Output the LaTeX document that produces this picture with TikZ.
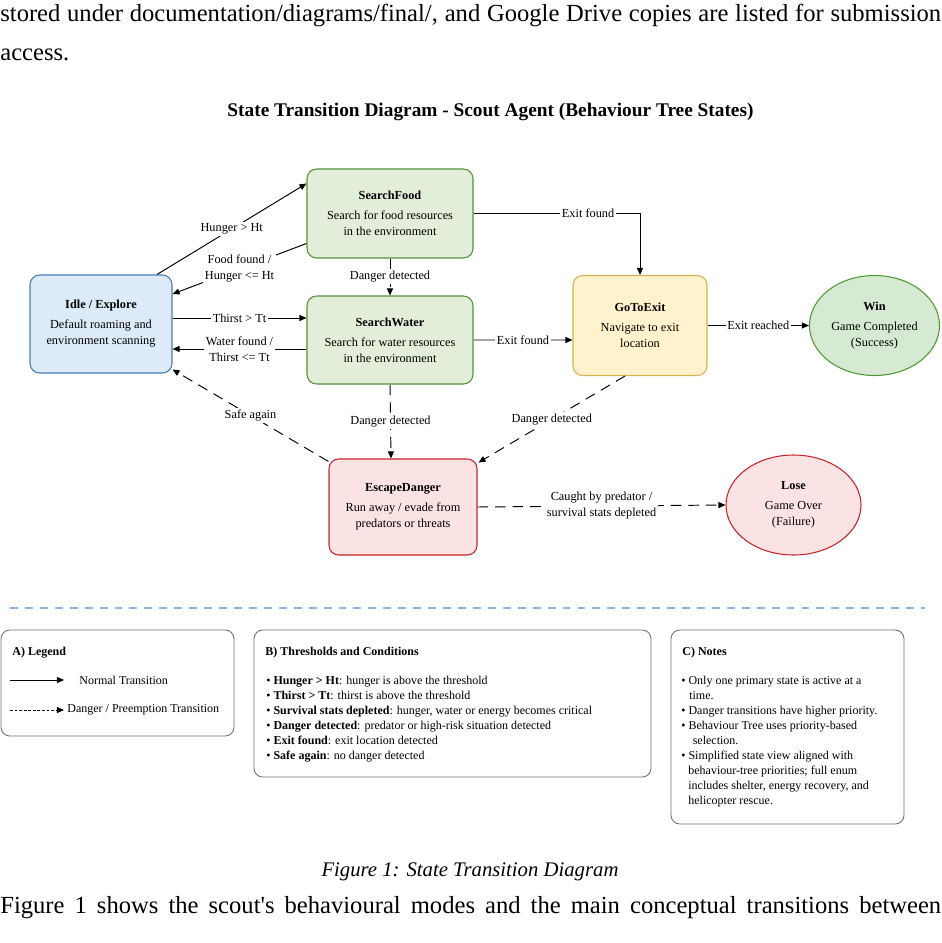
\documentclass[tikz,border=0pt]{standalone}
\usepackage{fontspec}
\setmainfont{Liberation Serif}
\usepackage{xcolor}
\usetikzlibrary{arrows.meta}
\usetikzlibrary{calc}
\usetikzlibrary{shapes.geometric}

\definecolor{idlefill}{HTML}{DDEAF9}
\definecolor{idledraw}{HTML}{4A7DB8}
\definecolor{searchfill}{HTML}{E2EEDA}
\definecolor{searchdraw}{HTML}{55913A}
\definecolor{winfill}{HTML}{D6E9D2}
\definecolor{windraw}{HTML}{4E9A30}
\definecolor{exitfill}{HTML}{FFF2CC}
\definecolor{exitdraw}{HTML}{D6B24E}
\definecolor{dangerfill}{HTML}{FBE2E3}
\definecolor{dangerdraw}{HTML}{C4262B}
\definecolor{sepblue}{HTML}{8DB3E2}
\definecolor{boxgray}{HTML}{707070}

\newcommand{\bodyfont}{\fontsize{14}{22.8}\selectfont}
\newcommand{\capfont}{\fontsize{11.8}{14}\selectfont}
\newcommand{\titlefont}{\fontsize{11}{13}\selectfont\bfseries}
\newcommand{\stfont}{\fontsize{7}{9.1}\selectfont}
\newcommand{\bxfont}{\fontsize{6.83}{8.54}\selectfont}

\tikzset{
  state/.style={draw, rounded corners=5.5pt, line width=0.6pt, align=center, font=\stfont, inner sep=2pt},
  endstate/.style={ellipse, draw, line width=0.6pt, align=center, font=\stfont, inner sep=0pt},
  normal/.style={-{Triangle[length=4pt,width=3.4pt]}, line width=0.55pt},
  danger/.style={normal, dash pattern=on 6pt off 4pt},
  elabel/.style={fill=white, font=\stfont, align=center, inner sep=1pt},
  infobox/.style={draw=boxgray, rounded corners=5pt, line width=0.5pt},
  boxtext/.style={font=\bxfont, inner sep=0pt},
}

\begin{document}
\begin{tikzpicture}[x=0.02cm, y=-0.02cm]
        \useasboundingbox (0,0) rectangle (941,943);
        \newcommand{\figstatetop}{213.5}
        \newcommand{\figstatemid}{340}
        \newcommand{\figstatelow}{507}
        % page text around the figure
        \node[anchor=base west, inner sep=0pt, font=\bodyfont] (bodyone) at (0,21) {\makebox[18.82cm][s]{stored under documentation/diagrams/final/, and Google Drive copies are listed for submission}};
        \node[anchor=base west, inner sep=0pt, font=\bodyfont] (bodytwo) at (0,60) {access.};
        \node[anchor=base, inner sep=0pt, font=\titlefont] (title) at (490.5,116) {State Transition Diagram - Scout Agent (Behaviour Tree States)};
        % states
        \node[state, fill=idlefill, draw=idledraw, minimum width=142*0.02cm, minimum height=98*0.02cm] (idle) at (101,324) {\textbf{Idle / Explore}\\[2.3pt]Default roaming and\\environment scanning};
        \node[state, fill=searchfill, draw=searchdraw, minimum width=166*0.02cm, minimum height=89*0.02cm] (food) at (390,\figstatetop) {\textbf{SearchFood}\\[2.3pt]Search for food resources\\in the environment};
        \node[state, fill=searchfill, draw=searchdraw, minimum width=166*0.02cm, minimum height=88*0.02cm] (water) at (390,\figstatemid) {\textbf{SearchWater}\\[2.3pt]Search for water resources\\in the environment};
        \node[state, fill=exitfill, draw=exitdraw, minimum width=134*0.02cm, minimum height=100*0.02cm] (exit) at (640,325.5) {\textbf{GoToExit}\\[2.3pt]Navigate to exit\\location};
        \node[endstate, fill=winfill, draw=windraw, minimum width=130*0.02cm, minimum height=100*0.02cm] (win) at (874.5,325.5) {\textbf{Win}\\[2.3pt]Game Completed\\(Success)};
        \node[state, fill=dangerfill, draw=dangerdraw, minimum width=148*0.02cm, minimum height=96*0.02cm] (escape) at (403,\figstatelow) {\textbf{EscapeDanger}\\[2.3pt]Run away / evade from\\predators or threats};
        \node[endstate, fill=dangerfill, draw=dangerdraw, minimum width=135*0.02cm, minimum height=100*0.02cm] (lose) at (793.5,505) {\textbf{Lose}\\[2.3pt]Game Over\\(Failure)};
        % transitions
        \draw[normal] ($(idle.north)+(56,0)$) -- node[elabel]{Hunger > Ht} ($(food.west)+(0,-30)$);
        \draw[normal] ($(food.west)+(0,30)$) -- node[elabel]{Food found /\\Hunger <= Ht} ($(idle.east)+(0,-30)$);
        \draw[normal] ($(idle.east)+(0,-6)$) -- node[elabel]{Thirst > Tt} ($(water.west)+(0,-22)$);
        \draw[normal] ($(water.west)+(0,9)$) -- node[elabel]{Water found /\\Thirst <= Tt} ($(idle.east)+(0,25)$);
        \draw[danger] (food.south) -- node[elabel]{Danger detected} (water.north);
        \draw[normal] (food.east) -| node[elabel, pos=0.344]{Exit found} (exit.north);
        \draw[normal] (water.east) -- node[elabel]{Exit found} ($(exit.west)+(0,14.5)$);
        \draw[normal] (exit.east) -- node[elabel]{Exit reached} (win.west);
        \draw[danger] (water.south) -- node[elabel]{Danger detected} ($(escape.north)+(-12,0)$);
        \draw[danger] ($(exit.south)+(-15,0)$) -- node[elabel]{Danger detected} ($(escape.north east)+(1,4)$);
        \draw[danger] ($(escape.north west)+(0,3)$) -- node[elabel]{Safe again} ($(idle.south east)+(0,-4)$);
        \draw[danger] (escape.east) -- node[elabel]{Caught by predator /\\survival stats depleted} (lose.west);
        % separator
        \draw[sepblue, line width=0.6pt, dash pattern=on 4.5pt off 4pt] (10,608) -- (925,608);
        % A) legend
        \draw[infobox] (1,630) rectangle (234,736);
        \node[boxtext, anchor=base west, font=\bxfont\bfseries] (legtitle) at (12,655) {A) Legend};
        \draw[normal, line width=0.4pt] (10,680) -- (64,680);
        \node[boxtext, anchor=west] (legnormal) at (79,680) {Normal Transition};
        \draw[normal, line width=0.5pt, dash pattern=on 1.6pt off 1pt] (10,710) -- (64,710);
        \node[boxtext, anchor=west] (legdanger) at (67,710) {Danger / Preemption Transition};
        % B) thresholds
        \draw[infobox] (254,630) rectangle (651,777);
        \node[boxtext, anchor=base west, font=\bxfont\bfseries] (thrtitle) at (265,655) {B) Thresholds and Conditions};
        \node[boxtext, anchor=north west, align=left] (thrlist) at (266,676) {• \textbf{Hunger > Ht}: hunger is above the threshold\\• \textbf{Thirst > Tt}: thirst is above the threshold\\• \textbf{Survival stats depleted}: hunger, water or energy becomes critical\\• \textbf{Danger detected}: predator or high-risk situation detected\\• \textbf{Exit found}: exit location detected\\• \textbf{Safe again}: no danger detected};
        % C) notes
        \draw[infobox] (671,630) rectangle (904,824);
        \node[boxtext, anchor=base west, font=\bxfont\bfseries] (notetitle) at (682,655) {C) Notes};
        \node[boxtext, anchor=north west, align=left] (notelist) at (681,676) {• Only one primary state is active at a\\\hspace*{4.5pt}time.\\• Danger transitions have higher priority.\\• Behaviour Tree uses priority-based\\\hspace*{6.5pt}selection.\\• Simplified state view aligned with\\\hspace*{4pt}behaviour-tree priorities; full enum\\\hspace*{4pt}includes shelter, energy recovery, and\\\hspace*{4pt}helicopter rescue.};
        % caption and text below
        \node[anchor=base, inner sep=0pt, font=\capfont\itshape] (caption) at (470,876) {Figure 1: State Transition Diagram};
        \node[anchor=base west, inner sep=0pt, font=\bodyfont] (bodythree) at (0,913) {\makebox[18.82cm][s]{Figure 1 shows the scout\textquotesingle s behavioural modes and the main conceptual transitions between}};
        \end{tikzpicture}
\end{document}
